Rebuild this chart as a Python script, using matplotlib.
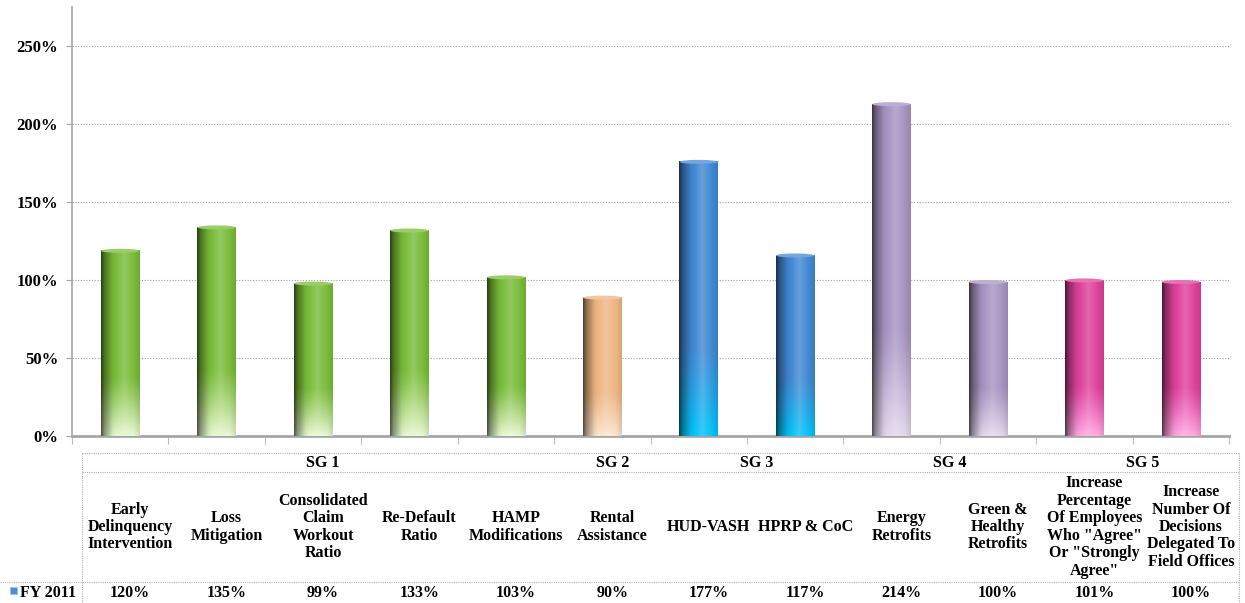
import matplotlib.pyplot as plt
import numpy as np
from matplotlib.patches import Ellipse, Rectangle
from matplotlib.lines import Line2D

# chart data
categories = [
    "Early\nDelinquency\nIntervention",
    "Loss\nMitigation",
    "Consolidated\nClaim\nWorkout\nRatio",
    "Re-Default\nRatio",
    "HAMP\nModifications",
    "Rental\nAssistance",
    "HUD-VASH",
    "HPRP & CoC",
    "Energy\nRetrofits",
    "Green &\nHealthy\nRetrofits",
    "Increase\nPercentage\nOf Employees\nWho \"Agree\"\nOr \"Strongly\nAgree\"",
    "Increase\nNumber Of\nDecisions\nDelegated To\nField Offices",
]
fy2011 = [120, 135, 99, 133, 103, 90, 177, 117, 214, 100, 101, 100]
groups = ["SG 1", "SG 2", "SG 3", "SG 4", "SG 5"]
group_sizes = [5, 1, 2, 2, 2]
series_name = "FY 2011"

# (body colour, colour at the foot of the bar) for each group
palette = [
    ((122, 188, 58), (232, 246, 208)),
    ((238, 182, 132), (252, 228, 204)),
    ((66, 136, 212), (0, 196, 250)),
    ((168, 148, 194), (226, 216, 236)),
    ((222, 66, 156), (255, 166, 226)),
]

W, H = 1245, 603
plt.rcParams['font.family'] = ['Liberation Serif', 'DejaVu Serif']
fig = plt.figure(figsize=(W / 100, H / 100), dpi=100)

x0, x1 = 72, 1229
y0, y1 = 436, 7
ax = fig.add_axes([x0 / W, (H - y0) / H, (x1 - x0) / W, (y0 - y1) / H])

n = len(fy2011)
ymax = 275
FS = 11.5


def bar_image(body, foot, ny=120, nx=60):
    body = np.array(body) / 255.0
    foot = np.array(foot) / 255.0
    s = np.linspace(1, 0, ny)[:, None]        # 1 at top, 0 at bottom
    t = np.linspace(0, 1, nx)[None, :]
    fade = np.clip((0.32 - s) / 0.32, 0, 1) ** 1.2
    base = body[None, None, :] * (1 - fade[..., None]) + foot[None, None, :] * fade[..., None]
    # cylinder shading across the bar
    shade = np.interp(t, [0, 0.08, 0.3, 0.6, 0.85, 1.0], [0.35, 0.6, 0.95, 1.12, 1.0, 0.9])
    shade = np.broadcast_to(shade, (ny, nx))[..., None]
    dark = base * np.minimum(shade, 1.0)
    light = np.clip(shade - 1.0, 0, None)
    img = dark + (1 - dark) * light * 1.6
    return np.clip(img, 0, 1)


bar_w = 0.4
cap_h = 4 * ymax / (y0 - y1)
colors_by_bar = []
for g, size in enumerate(group_sizes):
    colors_by_bar += [palette[g]] * size

for i, v in enumerate(fy2011):
    body, foot = colors_by_bar[i]
    cx = i + 0.5
    top = v - cap_h / 2
    ax.imshow(bar_image(body, foot), extent=[cx - bar_w / 2, cx + bar_w / 2, 0, top],
              aspect='auto', interpolation='bilinear', zorder=3)
    capc = np.array(body) / 255.0
    capc = capc + (1 - capc) * 0.25
    ax.add_patch(Ellipse((cx, top), bar_w, cap_h, facecolor=capc, edgecolor='none', zorder=4))

ax.set_xlim(0, n)
ax.set_ylim(0, ymax)

# axes styling
for side in ['top', 'right']:
    ax.spines[side].set_visible(False)
ax.spines['left'].set_color('#A6A6A6')
ax.spines['left'].set_linewidth(1.2)
ax.spines['bottom'].set_color('#A6A6A6')
ax.spines['bottom'].set_linewidth(2)

ax.set_yticks([0, 50, 100, 150, 200, 250])
ax.set_yticklabels([f"{t}%" for t in [0, 50, 100, 150, 200, 250]],
                   fontsize=12, fontweight='bold')
ax.tick_params(axis='y', length=4, color='#A6A6A6', pad=6)
ax.set_xticks(np.arange(n + 1))
ax.set_xticklabels([])
ax.tick_params(axis='x', length=6, color='#BFBFBF', width=0.8)
ax.yaxis.grid(True, color='#A0A0A0', linestyle=(0, (1, 1.5)), linewidth=0.8)
ax.set_axisbelow(True)
for gl in ax.get_ygridlines()[:1]:
    gl.set_visible(False)

# data table below the plot
tx0, tx1 = 82, 1239
col_w = (tx1 - tx0) / n


def fx(px):
    return px / W


def fy(py):
    return (H - py) / H


line_kw = dict(color='#B0B0B0', linestyle=(0, (1, 1)), linewidth=0.8,
               transform=fig.transFigure)
fig.add_artist(Line2D([fx(tx0), fx(tx1)], [fy(453), fy(453)], **line_kw))
fig.add_artist(Line2D([fx(tx0), fx(tx1)], [fy(472), fy(472)], **line_kw))
fig.add_artist(Line2D([fx(0), fx(tx1)], [fy(582), fy(582)], **line_kw))
fig.add_artist(Line2D([fx(tx0), fx(tx0)], [fy(453), fy(603)], **line_kw))
fig.add_artist(Line2D([fx(tx1), fx(tx1)], [fy(453), fy(603)], **line_kw))

txt_kw = dict(fontsize=FS, fontweight='bold', ha='center', va='center')
start = 0
for name, size in zip(groups, group_sizes):
    gx = tx0 + col_w * (start + size / 2)
    fig.text(fx(gx), fy(463), name, **txt_kw)
    start += size

for i, (label, v) in enumerate(zip(categories, fy2011)):
    cx = tx0 + col_w * (i + 0.5)
    fig.text(fx(cx), fy(527), label, linespacing=1.12, **txt_kw)
    fig.text(fx(cx), fy(593), f"{v}%", **txt_kw)

# legend key and row header
fig.add_artist(Rectangle((fx(10), fy(594)), 7 / W, 7 / H, transform=fig.transFigure,
                         facecolor='#4A90D9', edgecolor='#9CC3EA', linewidth=0.6))
fig.text(fx(20), fy(593), series_name, fontsize=FS, fontweight='bold',
         ha='left', va='center')

fig.savefig("out.png", dpi=100)
